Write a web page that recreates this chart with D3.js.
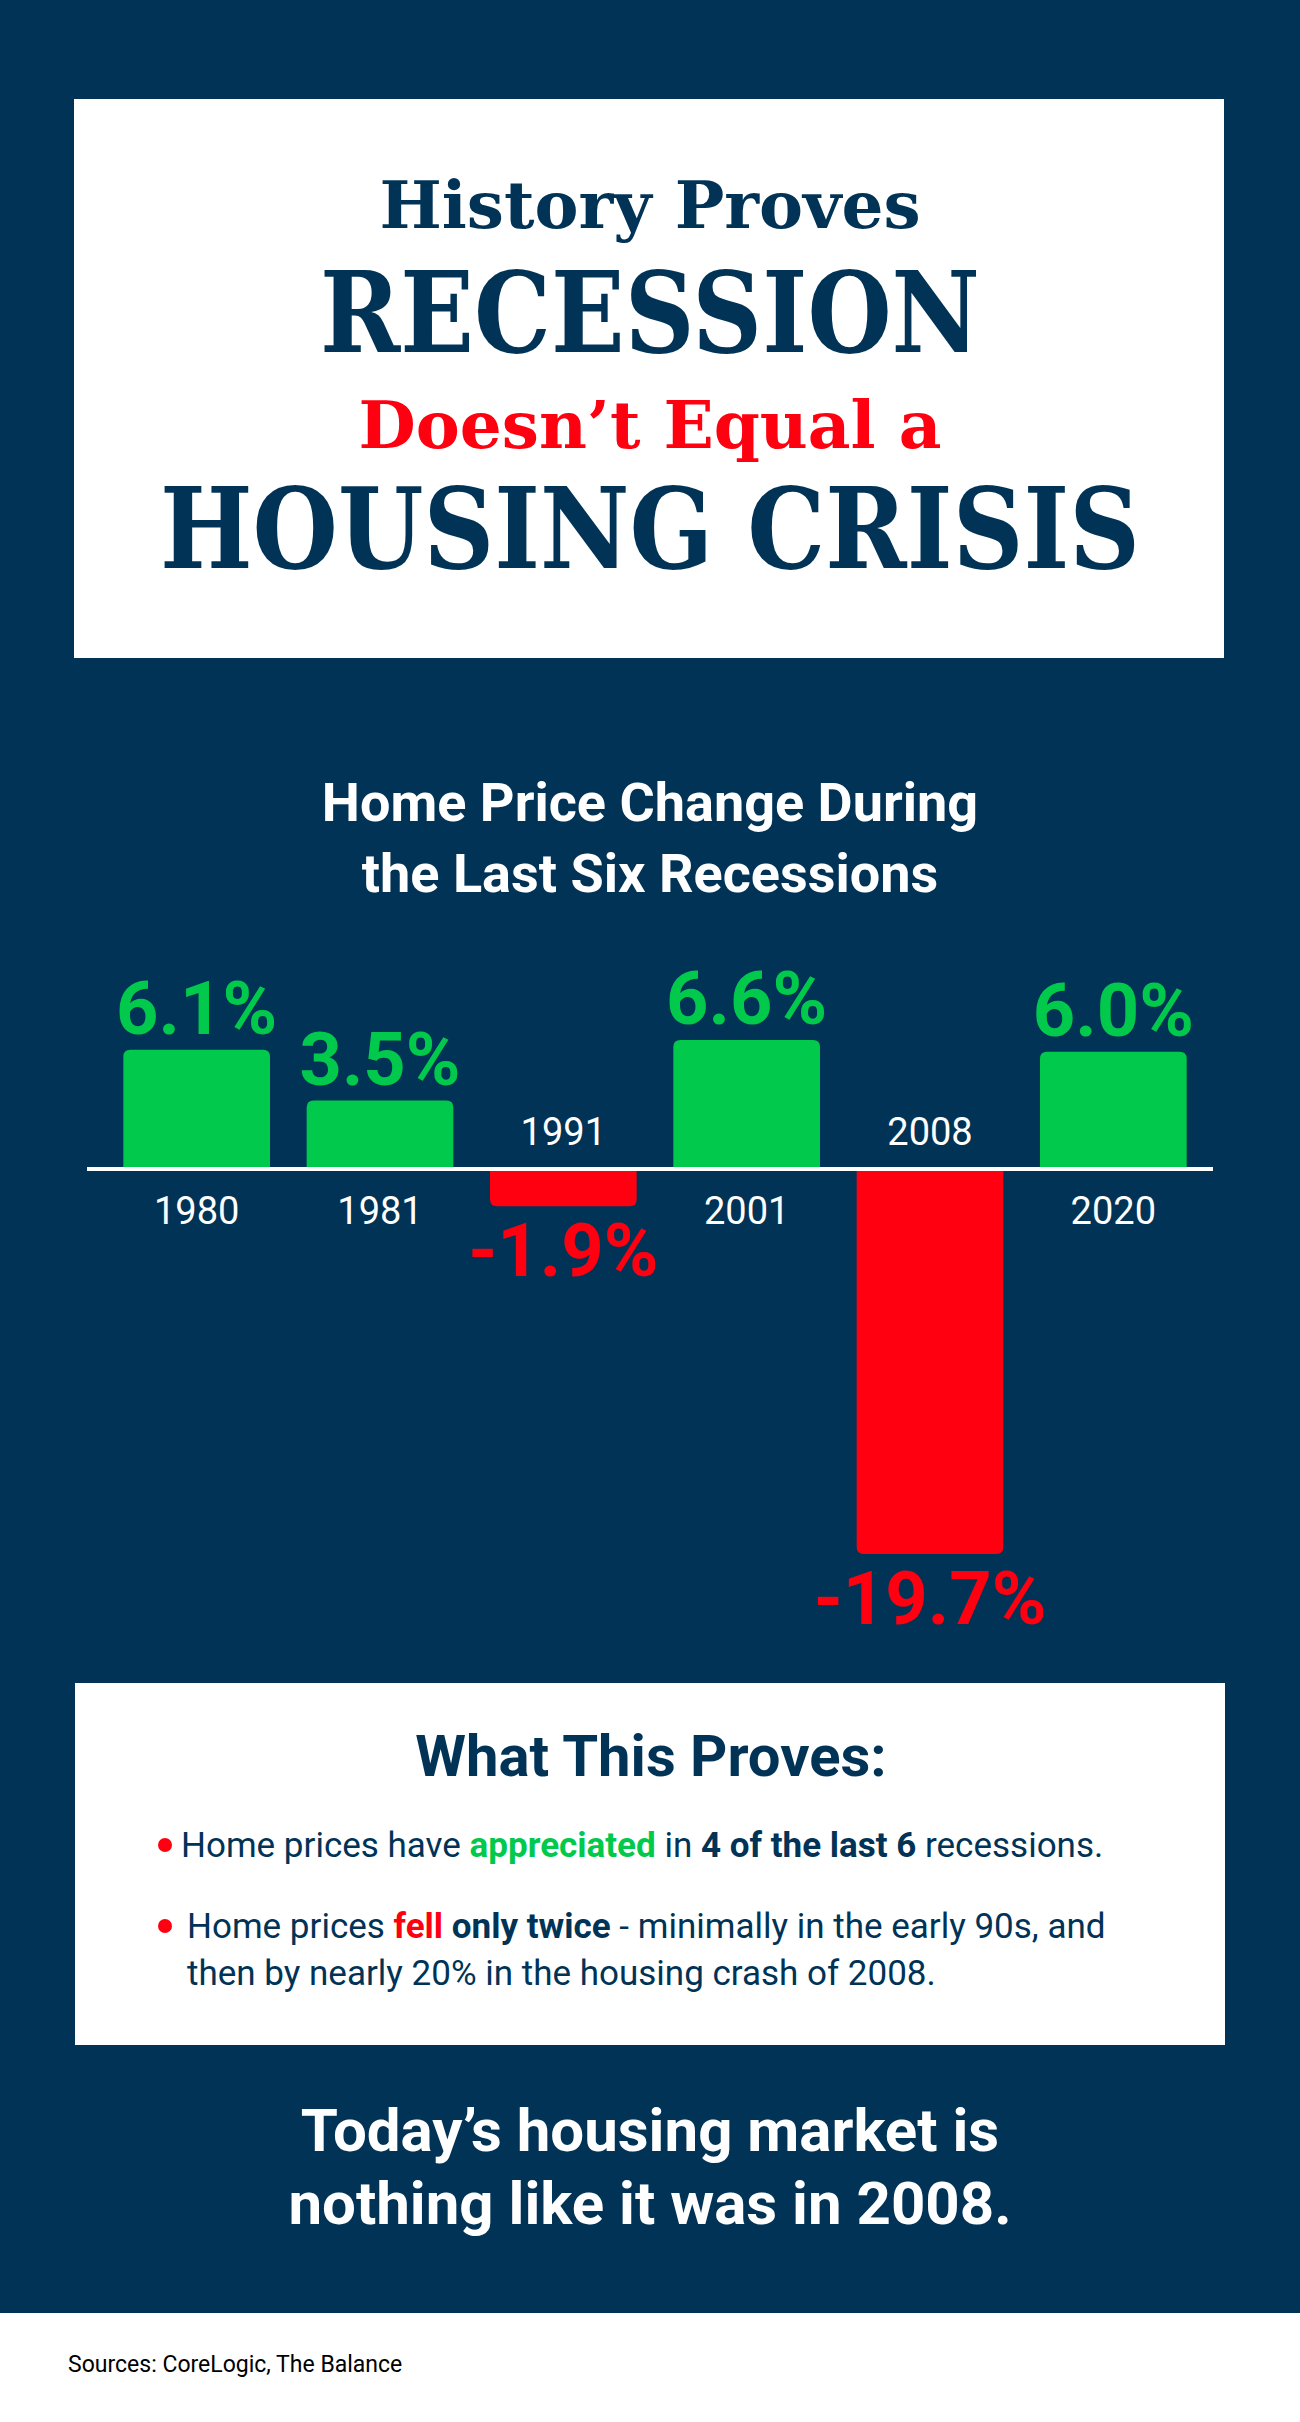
<!DOCTYPE html>
<html>
<head>
<meta charset="utf-8">
<script src="https://cdn.jsdelivr.net/npm/d3@7"></script>
<style>
  body { margin: 0; background: #003356; }
  svg { display: block; }
  .cond { font-family: "Liberation Sans Narrow", "Roboto", sans-serif; }
</style>
</head>
<body>
<svg id="chart"></svg>
<script>
// DATA
var years = ["1980", "1981", "1991", "2001", "2008", "2020"];
var changes = [6.1, 3.5, -1.9, 6.6, -19.7, 6.0];
var valueLabels = ["6.1%", "3.5%", "-1.9%", "6.6%", "-19.7%", "6.0%"];

var W = 1300, H = 2422;
var navy = "#003356", green = "#00c94b", red = "#ff0011";

var svg = d3.select("#chart").attr("width", W).attr("height", H);
svg.append("rect").attr("width", W).attr("height", H).attr("fill", navy);

// TITLE BOX
svg.append("rect").attr("x", 74).attr("y", 99).attr("width", 1150).attr("height", 559).attr("fill", "#fff");
var slab = "'DejaVu Serif', serif";
var titles = [
  {t: "History Proves", y: 228, s: 66, c: navy, w: "bold"},
  {t: "RECESSION", y: 352, s: 112, c: navy, w: "bold"},
  {t: "Doesn\u2019t Equal a", y: 448, s: 66, c: red, w: "bold"},
  {t: "HOUSING CRISIS", y: 568, s: 112, c: navy, w: "bold"}
];
svg.selectAll(".title").data(titles).enter().append("text")
  .attr("x", 650).attr("y", function(d) { return d.y; })
  .attr("text-anchor", "middle")
  .style("font-family", slab).style("font-weight", "bold")
  .style("font-size", function(d) { return d.s + "px"; })
  .attr("textLength", function(d) { return d.s > 100 ? (d.t.length > 10 ? 980 : 660) : null; })
  .attr("lengthAdjust", "spacingAndGlyphs")
  .attr("fill", function(d) { return d.c; })
  .text(function(d) { return d.t; });

// SUBTITLE
svg.selectAll(".sub").data(["Home Price Change During", "the Last Six Recessions"]).enter().append("text")
  .attr("class", "cond").attr("x", 650).attr("y", function(d, i) { return 821 + i * 71; })
  .attr("text-anchor", "middle").attr("fill", "#fff")
  .style("font-size", "54px").style("font-weight", "bold")
  .text(function(d) { return d; });

// BAR CHART
var x = d3.scaleBand().domain(years).range([105, 1205]).paddingInner(0.2).paddingOuter(0.1);
var y = d3.scaleLinear().domain([0, -19.7]).range([1169, 1554]);

var g = svg.append("g");
g.selectAll(".bar").data(changes).enter().append("path")
  .attr("fill", function(d) { return d >= 0 ? green : red; })
  .attr("d", function(d, i) {
    var x0 = x(years[i]), w = x.bandwidth();
    var y0 = y(0), y1 = y(d), r = 7;
    var dir = d >= 0 ? 1 : -1; // rounded corners on the far end
    return "M" + x0 + "," + y0 +
      "L" + x0 + "," + (y1 + dir * r) +
      "Q" + x0 + "," + y1 + " " + (x0 + r) + "," + y1 +
      "L" + (x0 + w - r) + "," + y1 +
      "Q" + (x0 + w) + "," + y1 + " " + (x0 + w) + "," + (y1 + dir * r) +
      "L" + (x0 + w) + "," + y0 + "Z";
  });

g.append("line").attr("x1", 87).attr("x2", 1213).attr("y1", y(0)).attr("y2", y(0))
  .attr("stroke", "#fff").attr("stroke-width", 4);

g.selectAll(".val").data(changes).enter().append("text")
  .attr("class", "cond")
  .attr("x", function(d, i) { return x(years[i]) + x.bandwidth() / 2; })
  .attr("y", function(d) { return d >= 0 ? y(d) - 16 : y(d) + 70; })
  .attr("text-anchor", "middle")
  .attr("fill", function(d) { return d >= 0 ? green : red; })
  .style("font-size", "74px").style("font-weight", "bold")
  .text(function(d, i) { return valueLabels[i]; });

g.selectAll(".yr").data(changes).enter().append("text")
  .attr("class", "cond")
  .attr("x", function(d, i) { return x(years[i]) + x.bandwidth() / 2; })
  .attr("y", function(d) { return d >= 0 ? y(0) + 55 : y(0) - 24; })
  .attr("text-anchor", "middle").attr("fill", "#fff")
  .style("font-size", "38px")
  .text(function(d, i) { return years[i]; });

// WHAT THIS PROVES BOX
svg.append("rect").attr("x", 75).attr("y", 1683).attr("width", 1150).attr("height", 362).attr("fill", "#fff");
svg.append("text").attr("class", "cond").attr("x", 651).attr("y", 1776).attr("text-anchor", "middle")
  .attr("fill", navy).style("font-size", "58px").style("font-weight", "bold").text("What This Proves:");

var bullets = [
  {y: 1857, parts: [["Home prices have ", navy, "normal"], ["appreciated", green, "bold"], [" in ", navy, "normal"], ["4 of the last 6", navy, "bold"], [" recessions.", navy, "normal"]]},
  {y: 1938, parts: [["Home prices ", navy, "normal"], ["fell", red, "bold"], [" only twice", navy, "bold"], [" - minimally in the early 90s, and", navy, "normal"]]},
  {y: 1985, parts: [["then by nearly 20% in the housing crash of 2008.", navy, "normal"]]}
];
bullets.forEach(function(b, i) {
  if (i < 2) svg.append("circle").attr("cx", 165).attr("cy", b.y - 12).attr("r", 7).attr("fill", red);
  var t = svg.append("text").attr("class", "cond").attr("x", i == 0 ? 181 : 187).attr("y", b.y)
    .style("font-size", "35px");
  b.parts.forEach(function(p) {
    t.append("tspan").attr("fill", p[1]).style("font-weight", p[2]).text(p[0]);
  });
});

// CLOSING STATEMENT
svg.selectAll(".close").data(["Today\u2019s housing market is", "nothing like it was in 2008."]).enter().append("text")
  .attr("class", "cond").attr("x", 650).attr("y", function(d, i) { return 2151 + i * 73; })
  .attr("text-anchor", "middle").attr("fill", "#fff")
  .style("font-size", "60px").style("font-weight", "bold")
  .text(function(d) { return d; });

// FOOTER
svg.append("rect").attr("x", 0).attr("y", 2313).attr("width", W).attr("height", H - 2313).attr("fill", "#fff");
svg.append("text").attr("class", "cond").attr("x", 68).attr("y", 2372).attr("fill", "#000")
  .style("font-size", "23px").text("Sources: CoreLogic, The Balance");
</script>
</body>
</html>
